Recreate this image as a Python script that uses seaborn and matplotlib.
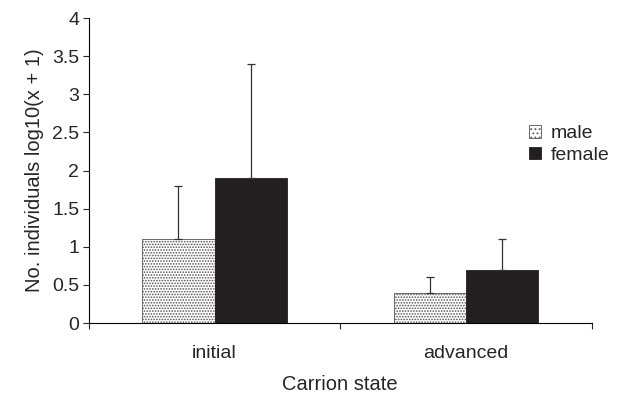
import matplotlib
matplotlib.use("Agg")
import matplotlib.pyplot as plt
import pandas as pd
import numpy as np
import seaborn as sns

states = ["initial", "advanced"]
sexes = ["male", "female"]
male_vals = [1.1, 0.4]
female_vals = [1.9, 0.7]
male_err = [0.7, 0.2]
female_err = [1.5, 0.4]

df = pd.DataFrame({
    "state": states * 2,
    "sex": ["male"] * 2 + ["female"] * 2,
    "value": male_vals + female_vals,
    "err": male_err + female_err,
})

sns.set_style("white")
plt.rcParams["font.family"] = ["Liberation Sans", "DejaVu Sans"]
plt.rcParams["hatch.color"] = "#6e6e6e"
plt.rcParams["hatch.linewidth"] = 0.8

fig = plt.figure(figsize=(6.17, 3.94), dpi=100)
ax = fig.add_axes([0.144, 0.180, 0.815, 0.774])

sns.barplot(data=df, x="state", y="value", hue="sex", order=states, hue_order=sexes,
            palette={"male": "white", "female": "#231f20"}, width=0.575,
            errorbar=None, saturation=1, edgecolor="#231f20", linewidth=0.6, ax=ax)

# stipple the male bars + draw one-sided error bars
for cont, sex in zip(ax.containers, sexes):
    sub = df[df["sex"] == sex].set_index("state").loc[states]
    for bar, (v, e) in zip(cont, zip(sub["value"], sub["err"])):
        if sex == "male":
            bar.set_hatch("......")
            bar.set_edgecolor("#555555")
        x = bar.get_x() + bar.get_width() / 2
        ax.errorbar(x, v, yerr=[[0], [e]], fmt="none", ecolor="#333333",
                    elinewidth=0.9, capsize=3, capthick=0.9)

ax.set_xlim(-0.5, 1.5)
ax.set_ylim(0, 4)
ax.set_yticks(np.arange(0, 4.01, 0.5))
ax.set_yticklabels([f"{t:g}" for t in np.arange(0, 4.01, 0.5)])
ax.set_xticks([0, 1])
ax.set_xticklabels(states)
ax.set_xticks([-0.5, 0.5, 1.5], minor=True)
ax.tick_params(axis="x", which="major", length=0, pad=16, labelsize=14)
ax.tick_params(axis="x", which="minor", length=4, width=0.8, direction="out", bottom=True)
ax.tick_params(axis="y", length=4, width=0.8, direction="out", left=True, labelsize=14, pad=3)

for s in ["top", "right"]:
    ax.spines[s].set_visible(False)
for s in ["left", "bottom"]:
    ax.spines[s].set_color("black")
    ax.spines[s].set_linewidth(0.8)

ax.set_xlabel("Carrion state", fontsize=14.5, labelpad=9)
ax.set_ylabel("No. individuals log10(x + 1)", fontsize=14.5, labelpad=6)

leg = ax.legend(loc="center left", bbox_to_anchor=(0.86, 0.585), frameon=False,
                fontsize=14, handlelength=0.6, handleheight=0.6, handletextpad=0.5,
                labelspacing=0.25, borderaxespad=0)
mh = leg.legend_handles[0]
mh.set_hatch("....")
mh.set_edgecolor("#555555")

fig.savefig("out.png", dpi=100)
